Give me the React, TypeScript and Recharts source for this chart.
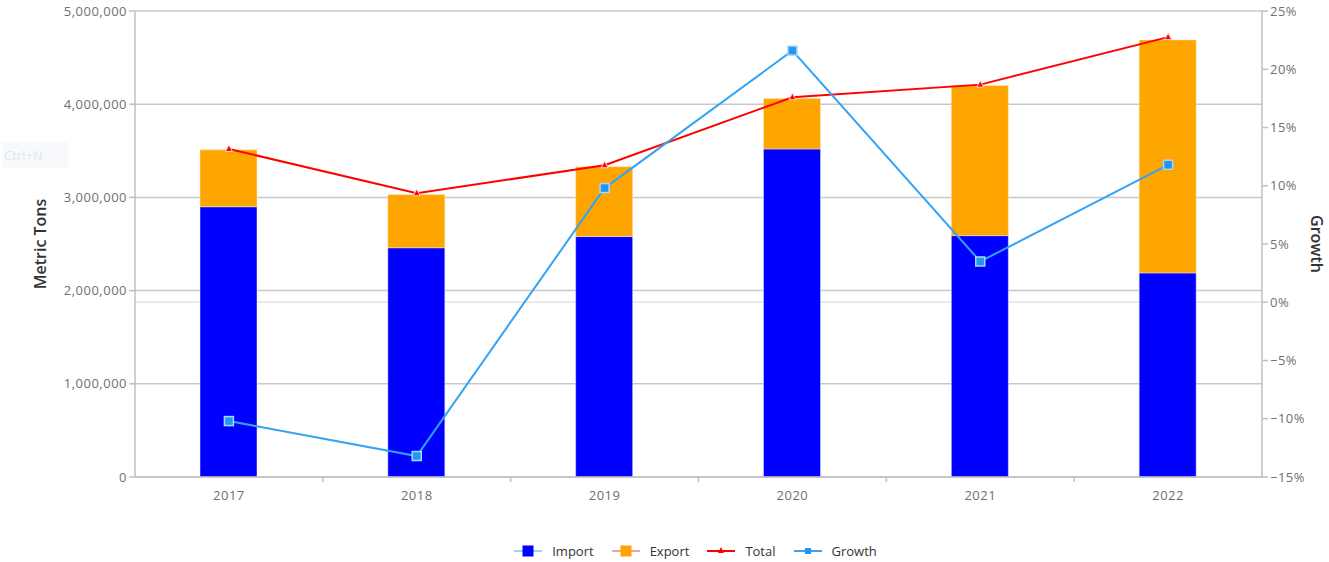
import {
  Bar,
  CartesianGrid,
  ComposedChart,
  Line,
  XAxis,
  YAxis,
} from 'recharts';

const years = ['2017', '2018', '2019', '2020', '2021', '2022'];
const importTons = [2900000, 2460000, 2580000, 3520000, 2590000, 2190000];
const exportTons = [610000, 570000, 750000, 540000, 1610000, 2500000];
const totalTons = [3520000, 3045000, 3345000, 4075000, 4210000, 4720000];
const growthPct = [-10.2, -13.2, 9.8, 21.6, 3.5, 11.8];

const leftTicks = [0, 1000000, 2000000, 3000000, 4000000, 5000000];
const rightTicks = [-15, -10, -5, 0, 5, 10, 15, 20, 25];

const data = years.map((year, i) => ({
  year,
  import: importTons[i],
  export: exportTons[i],
  total: totalTons[i],
  growth: growthPct[i],
}));

const font = '"Open Sans", "Noto Sans", sans-serif';
const tickStyle = { fill: '#707070', fontSize: 13, fontFamily: font, letterSpacing: 0.5 };
const axisGray = '#c0c0c0';

const W = 1329;
const H = 562;
const plotLeft = 135;
const plotRight = 1262;
const band = (plotRight - plotLeft) / years.length;

function YearTick(props: any) {
  const { x, y, payload, index } = props;
  return (
    <g>
      <text x={x} y={y + 15} textAnchor="middle" style={tickStyle as any} fill="#707070">
        {payload.value}
      </text>
      {index < years.length - 1 && (
        <line x1={x + band / 2} x2={x + band / 2} y1={y - 8} y2={y - 3} stroke={axisGray} strokeWidth={1.5} />
      )}
    </g>
  );
}

function SideTitle(props: any) {
  const { viewBox, title, titleX, rot } = props;
  const cy = viewBox ? viewBox.y + viewBox.height / 2 : 245;
  return (
    <text
      x={titleX}
      y={cy}
      textAnchor="middle"
      dominantBaseline="central"
      transform={`rotate(${rot}, ${titleX}, ${cy})`}
      fill="#333"
      style={{ fontFamily: font, fontSize: 16, fontWeight: 600 }}
    >
      {title}
    </text>
  );
}

function TriangleDot(props: any) {
  const { cx, cy } = props;
  if (cx == null || cy == null) return null;
  return (
    <path
      d={`M${cx},${cy - 4} L${cx + 3.5},${cy + 2.5} L${cx - 3.5},${cy + 2.5} Z`}
      fill="#ff0000"
      stroke="#ffd0d0"
      strokeWidth={1}
    />
  );
}

function SquareDot(props: any) {
  const { cx, cy } = props;
  if (cx == null || cy == null) return null;
  return (
    <rect x={cx - 4.5} y={cy - 4.5} width={9} height={9} fill="#2196f3" stroke="#a9d6f8" strokeWidth={1.5} />
  );
}

const legendItems = [
  { name: 'Import', line: '#9dd3f2', mark: 'square', fill: '#0000ff', size: 11 },
  { name: 'Export', line: '#f2a2a2', mark: 'square', fill: '#ffa500', size: 11 },
  { name: 'Total', line: '#ff0000', mark: 'triangle', fill: '#ff0000', size: 5 },
  { name: 'Growth', line: '#3da0f0', mark: 'square', fill: '#2196f3', size: 6 },
];

function LegendRow() {
  return (
    <div
      style={{
        position: 'absolute',
        top: 542,
        left: 62,
        width: W - 62,
        display: 'flex',
        justifyContent: 'center',
        gap: 18,
        fontFamily: font,
        fontSize: 13,
        color: '#333',
      }}
    >
      {legendItems.map((item) => (
        <div key={item.name} style={{ display: 'flex', alignItems: 'center', gap: 10 }}>
          <svg width={28} height={16}>
            <line x1={0} x2={28} y1={8} y2={8} stroke={item.line} strokeWidth={2} />
            {item.mark === 'square' ? (
              <rect x={14 - item.size / 2} y={8 - item.size / 2} width={item.size} height={item.size} fill={item.fill} />
            ) : (
              <path d="M14,4 L17,10 L11,10 Z" fill={item.fill} />
            )}
          </svg>
          <span>{item.name}</span>
        </div>
      ))}
    </div>
  );
}

export default function App() {
  return (
    <div style={{ position: 'relative', width: W, height: H, background: '#fff' }}>
      <style>{'body{margin:0}'}</style>
      <ComposedChart
        width={W}
        height={H}
        data={data}
        margin={{ top: 11, right: 17, left: 60, bottom: 55 }}
      >
        <CartesianGrid
          yAxisId="right"
          vertical={false}
          horizontalValues={[0]}
          stroke="#e4e4e4"
          strokeWidth={1.5}
        />
        <CartesianGrid yAxisId="left" vertical={false} stroke="#c8c8c8" strokeWidth={1.5} />
        <XAxis
          dataKey="year"
          height={30}
          tick={<YearTick />}
          tickLine={false}
          axisLine={{ stroke: axisGray, strokeWidth: 1.5 }}
        />
        <YAxis
          yAxisId="left"
          width={75}
          domain={[0, 5000000]}
          ticks={leftTicks}
          tickFormatter={(v: number) => v.toLocaleString('en-US')}
          tick={tickStyle}
          tickSize={6}
          tickLine={{ stroke: axisGray, strokeWidth: 1.5 }}
          axisLine={{ stroke: axisGray, strokeWidth: 1.5 }}
          label={<SideTitle title="Metric Tons" titleX={40} rot={-90} />}
        />
        <YAxis
          yAxisId="right"
          orientation="right"
          width={50}
          domain={[-15, 25]}
          ticks={rightTicks}
          tickFormatter={(v: number) => (v < 0 ? `\u2212${Math.abs(v)}%` : `${v}%`)}
          tick={tickStyle}
          tickSize={6}
          tickLine={{ stroke: axisGray, strokeWidth: 1.5 }}
          axisLine={{ stroke: axisGray, strokeWidth: 1.5 }}
          label={<SideTitle title="Growth" titleX={1317} rot={90} />}
        />
        <Bar yAxisId="left" dataKey="import" stackId="a" fill="#0000ff" barSize={57} stroke="#e8e8ff" strokeWidth={0.5} isAnimationActive={false} />
        <Bar yAxisId="left" dataKey="export" stackId="a" fill="#ffa500" barSize={57} stroke="#ffe9c2" strokeWidth={0.5} isAnimationActive={false} />
        <Line yAxisId="left" dataKey="total" stroke="#ff0000" strokeWidth={2} dot={<TriangleDot />} activeDot={false} isAnimationActive={false} />
        <Line yAxisId="right" dataKey="growth" stroke="#33a3f4" strokeWidth={2} dot={<SquareDot />} activeDot={false} isAnimationActive={false} />
      </ComposedChart>
      <div
        style={{
          position: 'absolute',
          left: 2,
          top: 142,
          width: 66,
          height: 26,
          background: '#f7f9fc',
          color: '#e2e6ee',
          fontFamily: font,
          fontSize: 13,
          lineHeight: '26px',
          paddingLeft: 2,
          boxSizing: 'border-box',
        }}
      >
        Ctrl+N
      </div>
      <LegendRow />
    </div>
  );
}
